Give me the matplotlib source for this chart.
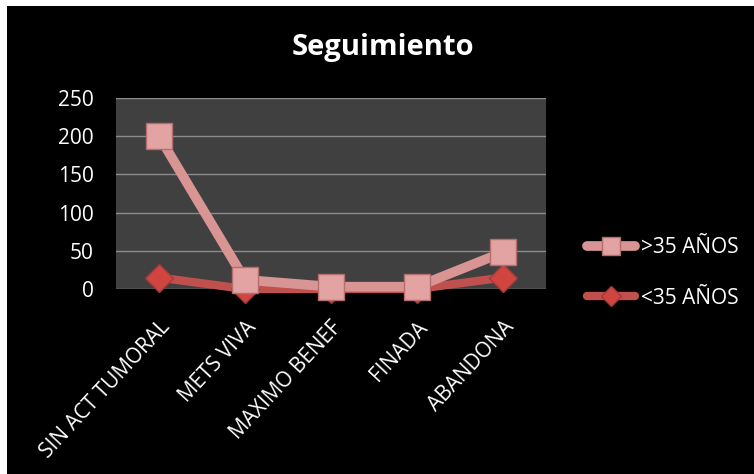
import matplotlib.pyplot as plt
from matplotlib.patches import Rectangle

plt.rcParams['font.family'] = ['Open Sans', 'DejaVu Sans']

# ── data ─────────────────────────────────────────────────────────────────────
categories = ["SIN ACT TUMORAL", "METS VIVA", "MAXIMO BENEF", "FINADA", "ABANDONA"]
mayor_35 = [200, 12, 3, 3, 48]
menor_35 = [15, 0, 0, 0, 15]
yticks = [0, 50, 100, 150, 200, 250]

# ── figure ───────────────────────────────────────────────────────────────────
fig = plt.figure(figsize=(7.54, 4.74), dpi=100, facecolor="white")
fig.patches.append(Rectangle((7 / 754, 0), 1, 1 - 6 / 474, transform=fig.transFigure,
                             facecolor="black", edgecolor="none", zorder=-10))

ax = fig.add_axes([116 / 754, 1 - 289 / 474, 430 / 754, 191 / 474])
ax.set_facecolor("#404040")
x = range(len(categories))

ax.plot(x, menor_35, color="#c0504d", linewidth=6, marker="D", markersize=14,
        markerfacecolor="#d0453f", markeredgecolor="#a33a36", label="<35 AÑOS",
        zorder=3, solid_capstyle="round", clip_on=False)
ax.plot(x, mayor_35, color="#d99594", linewidth=7, marker="s", markersize=19,
        markerfacecolor="#e2a3a2", markeredgecolor="#b46e6c", label=">35 AÑOS",
        zorder=4, solid_capstyle="round", clip_on=False)

ax.set_xlim(-0.5, len(categories) - 0.5)
ax.set_ylim(0, 250)
ax.set_yticks(yticks)
ax.set_xticks(list(x))
ax.set_xticklabels(categories, rotation=47, ha="right", rotation_mode="anchor",
                   color="white", fontsize=15)
ax.tick_params(axis="y", colors="white", labelsize=15, length=0, pad=16)
ax.tick_params(axis="x", length=0, pad=20)
ax.yaxis.grid(True, color="#8c8c8c", linewidth=1)
ax.set_axisbelow(True)
for s in ax.spines.values():
    s.set_visible(False)

fig.text(383 / 754, 1 - 47 / 474, "Seguimiento", color="white", fontsize=21,
         fontweight="bold", ha="center", va="center")

h, l = ax.get_legend_handles_labels()
leg = fig.legend(h[::-1], l[::-1], loc="center left",
                 bbox_to_anchor=(568 / 754, 1 - 273 / 474), frameon=False,
                 fontsize=15, labelcolor="white", handlelength=2.3,
                 handletextpad=0.3, labelspacing=1.4, markerscale=0.7)

plt.savefig("out.png", dpi=100, facecolor=fig.get_facecolor())
